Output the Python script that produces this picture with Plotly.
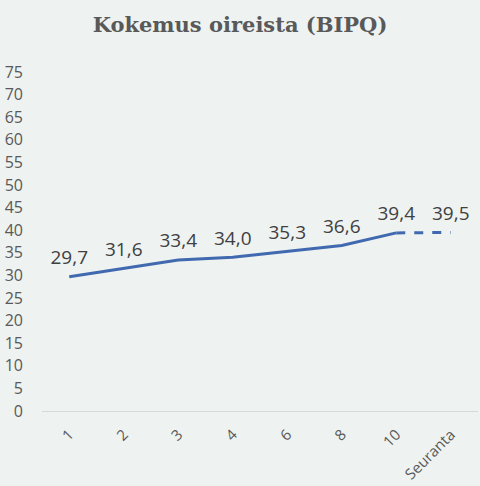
import plotly.graph_objects as go

# Kokemus oireista (BIPQ) - mean score per session
sessions = ["1", "2", "3", "4", "6", "8", "10", "Seuranta"]
scores = [29.7, 31.6, 33.4, 34.0, 35.3, 36.6, 39.4, 39.5]

y_ticks = list(range(0, 80, 5))

line_color = "#4169B0"
bg = "#EEF2F1"
label_font = dict(family="Open Sans", size=19, color="#404040")


def fmt(v):
    return f"{v:.1f}".replace(".", ",")


fig = go.Figure()

# solid part: sessions 1..10
fig.add_trace(go.Scatter(
    x=sessions[:7], y=scores[:7],
    mode="lines+markers+text",
    line=dict(color=line_color, width=3),
    marker=dict(size=11, opacity=0),
    text=[fmt(v) for v in scores[:7]],
    textposition="top center",
    textfont=label_font,
    hoverinfo="skip",
))

# dashed part: 10 -> follow-up
fig.add_trace(go.Scatter(
    x=sessions[6:], y=scores[6:],
    mode="lines+markers+text",
    line=dict(color=line_color, width=3, dash="dash"),
    marker=dict(size=11, opacity=0),
    text=["", fmt(scores[7])],
    textposition="top center",
    textfont=label_font,
    hoverinfo="skip",
))

fig.update_layout(
    width=480, height=486,
    paper_bgcolor=bg, plot_bgcolor=bg,
    showlegend=False,
    margin=dict(l=42, r=2, t=72, b=75),
    title=dict(
        text="<b>Kokemus oireista (BIPQ)</b>",
        x=0.5, xanchor="center", y=0.95, yanchor="middle",
        font=dict(family="DejaVu Serif", size=21, color="#595959"),
    ),
)

fig.update_xaxes(
    type="category", categoryorder="array", categoryarray=sessions,
    range=[-0.5, 7.5],
    showgrid=False, showline=True, linecolor="#D9D9D9", linewidth=1,
    tickangle=-45, ticks="", ticklabelstandoff=8,
    tickfont=dict(family="Open Sans", size=15, color="#595959"),
    zeroline=False,
)

fig.update_yaxes(
    range=[0, 75], tickvals=y_ticks,
    showgrid=False, showline=False, zeroline=False,
    ticks="", ticklabelstandoff=18,
    tickfont=dict(family="Open Sans", size=16, color="#595959"),
)

fig.write_html(
    "out.html",
    config={"displayModeBar": False},
    post_script="document.body.style.margin='0';",
)
